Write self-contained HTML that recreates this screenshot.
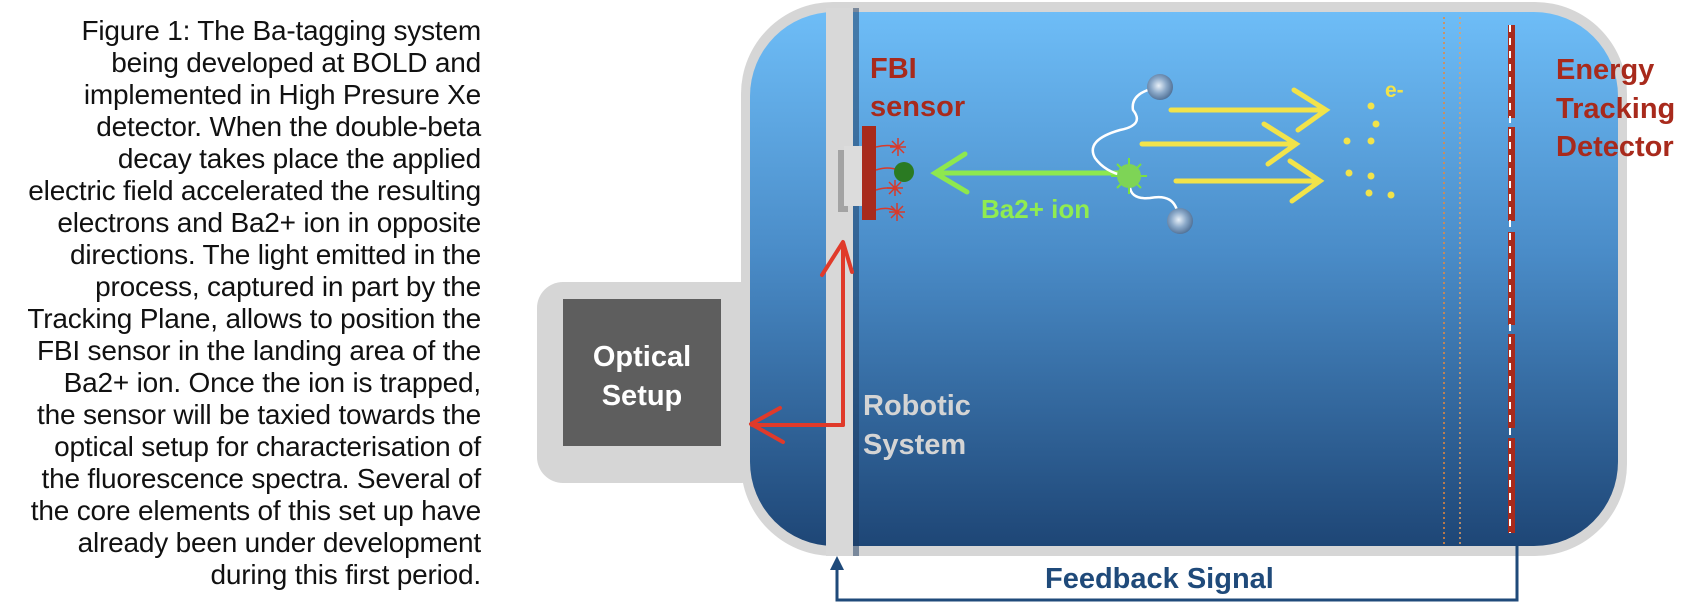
<!DOCTYPE html>
<html><head><meta charset="utf-8"><style>
html,body{margin:0;padding:0;background:#fff;width:1702px;height:602px;overflow:hidden;position:relative}
#cap{position:absolute;left:0;top:15px;width:481px;text-align:right;font-family:"Liberation Sans",sans-serif;font-size:28px;line-height:32px;color:#111;letter-spacing:-0.2px;white-space:nowrap}
svg{position:absolute;left:0;top:0}
</style></head><body>
<div id="cap">Figure 1: The Ba-tagging system<br>being developed at BOLD and<br>implemented in High Presure Xe<br>detector. When the double-beta<br>decay takes place the applied<br>electric field accelerated the resulting<br>electrons and Ba2+ ion in opposite<br>directions. The light emitted in the<br>process, captured in part by the<br>Tracking Plane, allows to position the<br>FBI sensor in the landing area of the<br>Ba2+ ion. Once the ion is trapped,<br>the sensor will be taxied towards the<br>optical setup for characterisation of<br>the fluorescence spectra. Several of<br>the core elements of this set up have<br>already been under development<br>during this first period.</div>
<svg width="1702" height="602" viewBox="0 0 1702 602" font-family="Liberation Sans, sans-serif" font-weight="bold">
<defs>
<linearGradient id="bg" x1="0" y1="0" x2="0" y2="1">
<stop offset="0" stop-color="#6ebdf7"/><stop offset="0.45" stop-color="#4a8cc8"/><stop offset="1" stop-color="#1e4676"/>
</linearGradient>
<radialGradient id="sph" cx="0.45" cy="0.45" r="0.6"><stop offset="0" stop-color="#e8f0f8"/><stop offset="0.5" stop-color="#8aa8c8"/><stop offset="1" stop-color="#4a6a90"/></radialGradient>
</defs>
<rect x="537" y="282" width="230" height="201" rx="26" fill="#d6d6d6"/>
<rect x="563" y="299" width="158" height="147" fill="#5e5e5e"/>
<text x="642" y="366" fill="#fff" font-size="29" text-anchor="middle">Optical</text>
<text x="642" y="405" fill="#fff" font-size="29" text-anchor="middle">Setup</text>
<rect x="741" y="2" width="886" height="554" rx="92" fill="#d6d6d6"/>
<rect x="750" y="12" width="868" height="534" rx="84" fill="url(#bg)"/>
<line x1="1444" y1="17" x2="1444" y2="544" stroke="#e8883a" stroke-width="1.5" stroke-dasharray="2 3"/>
<line x1="1460" y1="17" x2="1460" y2="544" stroke="#e8a060" stroke-width="1.5" stroke-dasharray="2 3"/>
<g fill="#a82a1c">
<rect x="1508" y="25" width="7" height="93"/><rect x="1508" y="127" width="7" height="94"/><rect x="1508" y="232" width="7" height="93"/><rect x="1508" y="334" width="7" height="94"/><rect x="1508" y="438" width="7" height="95"/>
</g>
<line x1="1510" y1="25" x2="1510" y2="533" stroke="#fff" stroke-width="2" stroke-dasharray="7 6"/>
<text fill="#a82a1c" font-size="29"><tspan x="1556" y="79">Energy</tspan><tspan x="1556" y="118">Tracking</tspan><tspan x="1556" y="156">Detector</tspan></text>
<rect x="853" y="8" width="6" height="548" fill="#1c3a60" opacity="0.5"/>
<rect x="826" y="8" width="27" height="548" fill="#d8d8d8"/>
<rect x="838" y="150" width="10" height="62" fill="#555" opacity="0.4"/>
<rect x="844" y="146" width="18" height="60" fill="#dcdcdc"/>
<rect x="862" y="126" width="14" height="94" fill="#a82a1c"/>
<g stroke="#d83a2a" stroke-width="1.5" fill="none">
<path d="M876 147 Q888 144 898 147"/><path d="M876 170 Q888 166 898 170"/><path d="M876 190 Q888 186 898 190"/><path d="M876 210 Q888 206 898 212"/>
<path d="M898 138 L898 156 M890 147 L906 147 M892 141 L904 153 M904 141 L892 153"/>
<path d="M895 180 L895 196 M887 188 L903 188 M889 182 L901 194 M901 182 L889 194"/>
<path d="M897 203 L897 221 M889 212 L905 212 M891 206 L903 218 M903 206 L891 218"/>
</g>
<circle cx="904" cy="172" r="10" fill="#2a7a22"/>
<text fill="#a82a1c" font-size="29"><tspan x="870" y="78">FBI</tspan><tspan x="870" y="116">sensor</tspan></text>
<text x="863" y="415" fill="#d4d4d4" font-size="29">Robotic</text>
<text x="863" y="454" fill="#d4d4d4" font-size="29">System</text>
<g stroke="#e03a2a" stroke-width="4" fill="none" stroke-linecap="round" stroke-linejoin="round">
<path d="M843 425 L843 244"/><path d="M822 275 L843 242 L852 272"/>
<path d="M843 425 L752 425"/><path d="M780 408 L751 424 L783 442"/>
</g>
<g stroke="#8ee84e" stroke-width="5" fill="none" stroke-linecap="round">
<path d="M936 173 L1120 173"/><path d="M965 154 L935 173 L967 192"/>
</g>
<text x="981" y="218" fill="#90ec50" font-size="26">Ba2+ ion</text>
<g stroke="#fff" stroke-width="2.5" fill="none">
<path d="M1160 87 Q1130 92 1133 110 Q1145 125 1120 130 Q1085 140 1095 158 Q1105 172 1125 176"/>
<path d="M1130 182 Q1128 200 1150 198 Q1175 193 1178 215"/>
</g>
<circle cx="1160" cy="87" r="13" fill="url(#sph)"/>
<circle cx="1180" cy="221" r="13" fill="url(#sph)"/>
<g stroke="#7ae040" stroke-width="2"><path d="M1129 158 L1129 194 M1111 176 L1147 176 M1117 164 L1141 188 M1141 164 L1117 188"/></g>
<circle cx="1129" cy="176" r="12" fill="#7ed456"/>
<g stroke="#f2e34a" stroke-width="5" fill="none" stroke-linecap="round">
<path d="M1171 110 L1323 110"/><path d="M1294 90 L1326 110 L1298 130"/>
<path d="M1142 144 L1293 144"/><path d="M1264 124 L1296 144 L1268 164"/>
<path d="M1176 181 L1317 181"/><path d="M1290 161 L1320 181 L1292 201"/>
</g>
<text x="1385" y="97" fill="#f2e34a" font-size="21">e-</text>
<g fill="#f2e34a"><circle cx="1371" cy="106" r="3.5"/><circle cx="1376" cy="124" r="3.5"/><circle cx="1347" cy="141" r="3.5"/><circle cx="1371" cy="141" r="3.5"/><circle cx="1349" cy="173" r="3.5"/><circle cx="1371" cy="176" r="3.5"/><circle cx="1369" cy="193" r="3.5"/><circle cx="1391" cy="195" r="3.5"/></g>
<path d="M1517 546 L1517 600 L837 600 L837 566" stroke="#1f4a7a" stroke-width="3" fill="none"/>
<path d="M837 556 L830 570 L844 570 Z" fill="#1f4a7a"/>
<text x="1045" y="588" fill="#1f4a7a" font-size="29">Feedback Signal</text>
</svg>
</body></html>
